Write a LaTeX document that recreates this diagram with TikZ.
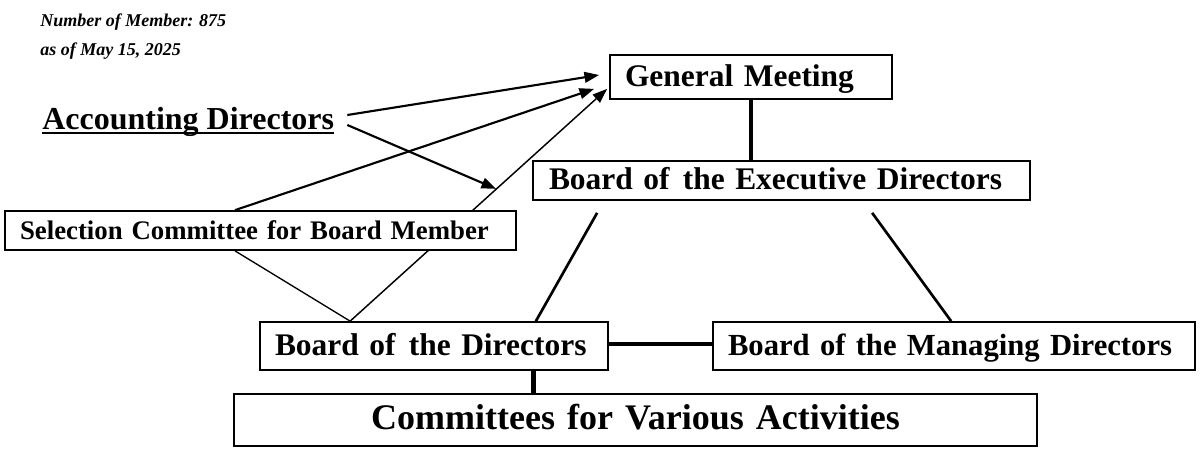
\documentclass[tikz,border=0pt]{standalone}
\usepackage{fontspec}
\setmainfont{Liberation Serif}
\usetikzlibrary{arrows.meta,calc,backgrounds}
\begin{document}
\begin{tikzpicture}[x=0.75pt,y=-0.75pt,
  box/.style={draw, line width=1.3pt, fill=white, inner ysep=0pt, align=left,
              text height=16.8pt, text depth=3pt},
  arr/.style={-{Triangle[length=11pt,width=8pt]}, line width=1.6pt},
  tarr/.style={-{Triangle[length=11pt,width=8pt]}, line width=1.1pt},
  thinline/.style={line width=1pt},
  midline/.style={line width=2pt},
  heavyline/.style={line width=3.6pt},
  boxfont/.style={font=\bfseries\fontsize{23.6}{28}\selectfont}]
\useasboundingbox (0,0) rectangle (1200,454);

% header text
\node[anchor=north west, inner sep=0pt, align=left,
      font=\bfseries\itshape\fontsize{13.5}{21.75}\selectfont] (hdr) at (40,14)
  {Number of Member: 875\\as of May 15, 2025};

% boxes
\node[box, boxfont, inner xsep=11.25pt, text width=189pt, minimum height=33pt] (gm) at (751,77)
  {\mbox{General Meeting}};
\node[box, boxfont, inner xsep=12pt, text width=348.75pt, minimum height=29.25pt] (exec) at (781.5,180.5)
  {\mbox{Board of\hspace{0.42em}the Executive Directors}};
\node[box, font=\bfseries\fontsize{20.1}{24}\selectfont, inner xsep=11.25pt, text width=360.75pt, minimum height=29.25pt] (sel) at (260.5,230.5)
  {\mbox{Selection Committee for Board Member}};
\node[box, boxfont, inner xsep=11.25pt, text width=238.5pt, minimum height=36pt] (bod) at (434,346)
  {\mbox{Board of\hspace{0.42em}the Directors}};
\node[box, font=\bfseries\fontsize{23}{28}\selectfont, inner xsep=11.25pt, text width=339pt, minimum height=36pt] (bmd) at (954,346)
  {\mbox{Board of the Managing Directors}};
\node[box, font=\bfseries\fontsize{27}{32}\selectfont, inner xsep=0pt, align=center, text width=602.25pt, minimum height=39pt] (comm) at (635.5,420)
  {Committees for Various Activities};

% accounting directors
\node[anchor=base west, inner sep=0pt, font=\bfseries\fontsize{24}{28}\selectfont] (acc) at (42,129)
  {Accounting Directors};
\draw[line width=1.1pt] ($(acc.base west)+(0,4)$) -- ($(acc.base east)+(0,4)$);

\coordinate (bc) at ($(bod.south east)+(-75.5,0)$);

\begin{pgfonlayer}{background}
  \draw[arr] ($(acc.base east)+(13,-14)$) -- ($(gm.west)+(-10,-2)$);
  \draw[arr] ($(acc.base east)+(13,-4)$) -- ($(exec.south west)+(-36,-12)$);
  \draw[arr] ($(sel.north)+(-25.5,0)$) -- ($(gm.south west)+(-15,-11)$);
  \draw[tarr] ($(bod.north west)+(91,0)$) -- ($(gm.south west)+(-2,-11)$);
  \draw[thinline] ($(sel.south)+(-25.5,0)$) -- ($(bod.north west)+(91,0)$);
  \draw[midline] ($(exec.south west)+(65,12)$) -- ($(bod.north east)+(-73,0)$);
  \draw[midline] ($(exec.south west)+(340,12)$) -- ($(bmd.north west)+(239,0)$);
  \draw[heavyline] (gm.south) -- (gm.south |- exec.north);
  \draw[heavyline] ($(bod.east)+(0,-2)$) -- ($(bmd.west)+(0,-2)$);
  \draw[heavyline] (bc) -- (bc |- comm.north);
\end{pgfonlayer}
\end{tikzpicture}
\end{document}
